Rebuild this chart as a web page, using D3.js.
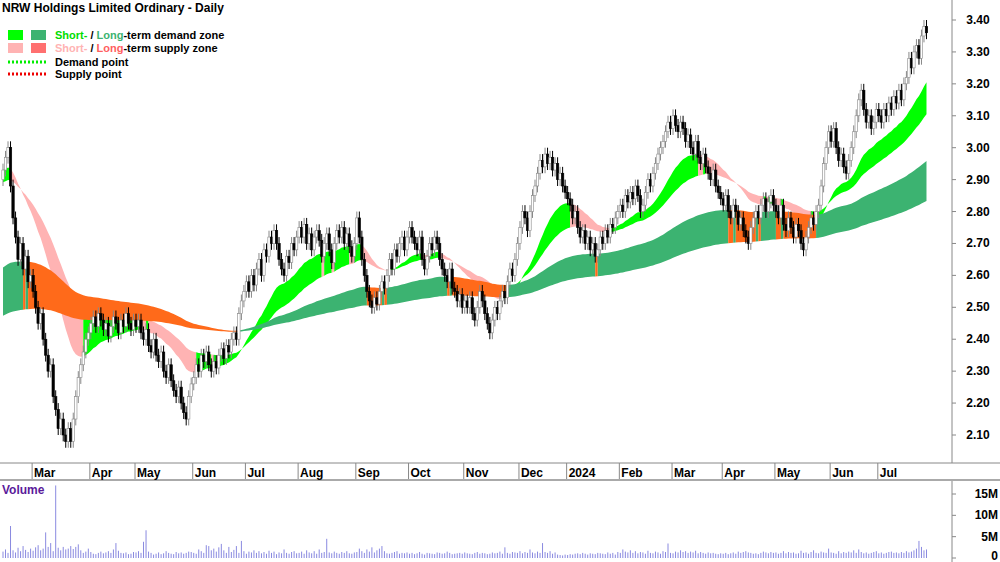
<!DOCTYPE html>
<html><head><meta charset="utf-8">
<script src="https://cdn.jsdelivr.net/npm/d3@7"></script>
<style>
body{margin:0;background:#fff;}
text{font-family:"Liberation Sans Narrow","Arial Narrow","Liberation Sans",Arial,sans-serif;}
</style></head>
<body><svg id="chart" width="1000" height="562"></svg>
<script>
// Month labels and daily closes
const monthLabels = ['', 'Mar', 'Apr', 'May', 'Jun', 'Jul', 'Aug', 'Sep', 'Oct', 'Nov', 'Dec', '2024', 'Feb', 'Mar', 'Apr', 'May', 'Jun', 'Jul'];
const monthCloses = [
  [2.93,2.97,3.00,2.88,2.78,2.72,2.65,2.70,2.62,2.66,2.58,2.60],
  [2.55,2.50,2.45,2.48,2.40,2.35,2.30,2.32,2.22,2.18,2.12,2.15,2.10,2.08,2.12,2.08,2.15,2.22,2.28,2.32,2.36,2.40,2.42],
  [2.45,2.47,2.44,2.48,2.46,2.43,2.45,2.41,2.44,2.47,2.45,2.42,2.46,2.44,2.48,2.45,2.43,2.46],
  [2.44,2.46,2.42,2.40,2.43,2.38,2.36,2.40,2.35,2.33,2.36,2.30,2.28,2.32,2.27,2.24,2.22,2.25,2.20,2.17,2.15,2.22,2.26],
  [2.28,2.32,2.30,2.35,2.33,2.36,2.32,2.30,2.33,2.31,2.35,2.37,2.34,2.38,2.36,2.40,2.42,2.40,2.48,2.52,2.55],
  [2.58,2.55,2.60,2.57,2.62,2.65,2.60,2.68,2.66,2.72,2.70,2.74,2.70,2.65,2.62,2.60,2.66,2.64,2.70,2.68,2.72],
  [2.75,2.72,2.76,2.70,2.73,2.68,2.72,2.74,2.71,2.66,2.70,2.73,2.68,2.64,2.70,2.74,2.72,2.75,2.70,2.73,2.69,2.66,2.70],
  [2.78,2.72,2.65,2.60,2.55,2.52,2.50,2.53,2.51,2.55,2.58,2.56,2.60,2.65,2.62,2.68,2.66,2.70,2.72,2.68,2.72],
  [2.75,2.72,2.70,2.68,2.72,2.65,2.62,2.66,2.70,2.68,2.72,2.70,2.65,2.62,2.60,2.58,2.62,2.56,2.55,2.52,2.54,2.50],
  [2.52,2.50,2.53,2.48,2.46,2.50,2.55,2.52,2.48,2.45,2.42,2.46,2.50,2.48,2.52,2.55,2.53,2.58,2.62,2.60,2.65,2.70],
  [2.75,2.80,2.78,2.74,2.80,2.85,2.88,2.92,2.96,2.94,2.98,2.95,2.97,2.93,2.95,2.90,2.92,2.88,2.86],
  [2.84,2.82,2.78,2.80,2.75,2.72,2.74,2.70,2.72,2.68,2.70,2.66,2.68,2.72,2.70,2.74,2.72,2.76,2.75,2.78,2.80],
  [2.82,2.80,2.85,2.83,2.86,2.84,2.88,2.85,2.80,2.82,2.86,2.90,2.88,2.92,2.95,2.98,3.00,3.02,3.05,3.08,3.06],
  [3.10,3.07,3.05,3.08,3.06,3.02,3.04,3.00,2.98,3.02,2.97,2.95,2.98,2.94,2.92,2.90,2.93,2.88,2.86,2.84],
  [2.82,2.85,2.80,2.78,2.82,2.80,2.76,2.78,2.74,2.72,2.70,2.75,2.78,2.80,2.78,2.82,2.84,2.80,2.83,2.85,2.82],
  [2.80,2.78,2.82,2.76,2.74,2.78,2.75,2.72,2.76,2.74,2.70,2.68,2.72,2.75,2.78,2.76,2.80,2.82,2.88,2.95,3.00,3.05],
  [3.02,3.06,3.00,2.96,2.98,2.94,2.92,2.96,3.00,3.05,3.10,3.15,3.18,3.12,3.08,3.10,3.06,3.08,3.12],
  [3.10,3.08,3.12,3.10,3.14,3.12,3.16,3.14,3.18,3.15,3.20,3.22,3.28,3.25,3.30,3.32,3.28,3.35,3.38,3.36]
];
const firstOpen = 2.90;
// daily volume in millions
const volumes = [
  1.5,2.0,1.2,7.5,1.8,1.3,2.4,1.6,2.8,1.9,1.4,2.2,
  1.7,2.5,3.0,1.8,2.2,6.0,2.6,3.5,1.6,17.0,2.4,1.8,2.6,2.0,2.2,2.8,2.1,2.6,3.2,1.8,1.2,1.5,2.2,
  1.4,1.0,0.9,1.2,1.5,1.1,1.3,1.6,1.2,2.0,3.5,1.7,1.2,1.1,1.3,0.9,1.0,1.4,
  1.3,1.6,1.2,3.8,6.5,1.5,1.2,0.8,1.0,1.3,0.9,1.1,1.6,1.2,1.0,0.9,1.4,1.1,1.3,1.0,1.2,1.5,1.4,
  1.2,1.0,2.0,1.6,1.2,3.0,2.8,1.8,2.2,1.5,2.5,3.3,1.8,1.2,2.6,1.4,1.9,2.8,1.2,4.0,1.6,
  1.0,1.5,1.3,1.8,1.2,1.6,1.1,1.4,1.0,1.7,1.2,1.5,0.9,1.3,1.1,2.0,1.2,1.0,1.4,1.6,1.1,
  1.2,1.5,1.0,1.8,1.3,1.1,1.6,1.0,2.0,1.2,1.4,4.5,1.3,1.1,1.5,1.2,1.0,1.4,1.2,1.6,1.1,1.0,1.3,
  1.4,2.2,1.6,1.2,2.0,1.5,2.5,1.3,1.8,2.2,2.8,1.6,1.1,1.0,1.2,1.4,1.6,1.0,1.2,1.1,1.3,
  1.0,1.2,0.9,1.1,1.4,1.0,0.8,1.2,1.1,1.0,0.9,1.3,1.2,1.0,1.1,1.5,1.2,0.9,1.0,1.1,1.2,1.0,
  1.3,1.1,1.0,0.9,1.2,1.4,1.0,1.2,1.1,0.9,1.0,1.3,1.1,1.2,1.5,1.0,2.5,1.2,1.0,1.4,1.3,1.2,
  1.6,1.1,1.4,1.2,2.0,1.3,1.1,1.5,1.2,3.5,1.4,1.2,1.6,1.0,1.3,0.8,0.7,0.6,0.8,
  0.7,0.9,0.8,1.0,1.1,0.9,1.2,1.0,0.8,1.1,1.0,0.9,1.2,1.1,1.0,0.9,1.3,1.0,1.2,0.8,1.4,
  1.2,2.0,1.5,1.3,1.8,1.2,1.6,1.1,1.4,1.3,1.0,1.7,1.2,1.1,1.5,1.3,1.0,1.6,1.4,3.4,1.2,
  1.1,1.5,1.3,1.8,1.4,1.6,1.2,1.5,1.3,1.7,1.1,1.4,1.2,1.0,1.3,1.1,1.2,1.0,0.9,1.1,
  1.0,1.2,0.9,1.1,1.3,1.0,1.5,1.2,1.4,1.6,1.3,1.2,1.0,1.1,0.9,1.2,1.5,1.3,1.1,1.4,1.2,
  1.3,1.0,1.2,1.6,1.1,1.4,1.2,1.3,1.0,1.1,1.7,1.2,1.3,1.0,1.4,1.8,1.2,1.1,1.5,1.3,1.2,2.2,
  1.3,1.2,1.0,1.6,1.1,1.4,1.2,1.5,1.3,1.8,1.2,2.0,1.4,1.1,1.3,1.0,1.2,1.4,1.6,
  1.1,1.3,1.0,1.2,1.4,1.5,1.2,1.3,1.1,1.4,1.2,1.6,1.3,1.5,1.8,2.2,4.0,2.6,1.8,2.0
];
const priceTicks = [2.10,2.20,2.30,2.40,2.50,2.60,2.70,2.80,2.90,3.00,3.10,3.20,3.30,3.40];
const volumeTicks = [0, 5, 10, 15];
// zone periods and starting levels
const shortPeriods = [25, 50], shortSeeds = [2.93, 2.89];
const longPeriods = [130, 260], longSeeds = [2.62, 2.47];

const svg = d3.select('#chart');
const closes = monthCloses.flat();
const monthStart = [];
let k = 0;
monthCloses.forEach(m => { monthStart.push(k); k += m.length; });
const days = closes.map((c, i) => {
  const o = i === 0 ? firstOpen : closes[i - 1];
  return {i, o, c, h: Math.max(o, c) + 0.02, l: Math.min(o, c) - 0.02, v: volumes[i] || 1};
});

const x = d3.scaleLinear().domain([0, closes.length]).range([2, 928]);
const y = d3.scaleLinear().domain([2.10, 3.40]).range([435, 20]);
const yv = d3.scaleLinear().domain([0, 15]).range([558, 494]);

function ema(period, seed) {
  const a = 2 / (period + 1); let e = seed;
  return closes.map(c => (e = e + a * (c - e)));
}
const sF = ema(shortPeriods[0], shortSeeds[0]), sS = ema(shortPeriods[1], shortSeeds[1]);
const lF = ema(longPeriods[0], longSeeds[0]), lS = ema(longPeriods[1], longSeeds[1]);

function drawZone(fast, slow, upColor, downColor) {
  const pts = fast.map((f, i) => ({i, a: f, b: slow[i], up: i === 0 ? true : f >= fast[i - 1]}));
  const area = d3.area().x(d => x(d.i) + 1).y0(d => y(d.a)).y1(d => y(d.b));
  let start = 0;
  for (let i = 1; i <= pts.length; i++) {
    if (i === pts.length || pts[i].up !== pts[start].up) {
      svg.append('path').attr('d', area(pts.slice(start, Math.min(i + 1, pts.length))))
        .attr('fill', pts[start].up ? upColor : downColor);
      start = i;
    }
  }
}
drawZone(sF, sS, '#00ff00', '#ffb3b3');
drawZone(lF, lS, '#3cb371', '#ff6a1a');

// candles
const cg = svg.append('g');
days.forEach(d => {
  const up = d.c >= d.o, cx = x(d.i) + 1;
  cg.append('line').attr('x1', cx).attr('x2', cx).attr('y1', y(d.h)).attr('y2', y(d.l))
    .attr('stroke', up ? '#888' : '#000').attr('stroke-width', 1);
  cg.append('rect').attr('x', cx - 1.2).attr('width', 2.4)
    .attr('y', y(Math.max(d.o, d.c))).attr('height', Math.max(1, Math.abs(y(d.o) - y(d.c))))
    .attr('fill', up ? '#fff' : '#000').attr('stroke', up ? '#888' : '#000').attr('stroke-width', 0.6);
});

// volume bars
svg.append('g').selectAll('line').data(days).join('line')
  .attr('x1', d => x(d.i) + 1).attr('x2', d => x(d.i) + 1)
  .attr('y1', yv(0)).attr('y2', d => yv(d.v))
  .attr('stroke', '#8a8ae0').attr('stroke-width', 1);

// frame lines
svg.append('line').attr('x1', 0).attr('x2', 1000).attr('y1', 463).attr('y2', 463).attr('stroke', '#888');
svg.append('line').attr('x1', 0).attr('x2', 1000).attr('y1', 480).attr('y2', 480).attr('stroke', '#aaa').attr('stroke-width', 2);
svg.append('line').attr('x1', 952).attr('x2', 952).attr('y1', 0).attr('y2', 463).attr('stroke', '#888');
svg.append('line').attr('x1', 952).attr('x2', 952).attr('y1', 481).attr('y2', 562).attr('stroke', '#888');

// price axis
priceTicks.forEach(t => {
  svg.append('line').attr('x1', 952).attr('x2', 956).attr('y1', y(t)).attr('y2', y(t)).attr('stroke', '#888');
  svg.append('text').attr('x', 978).attr('y', y(t) + 4).attr('font-size', 12).attr('font-weight', 'bold')
    .attr('text-anchor', 'middle').text(t.toFixed(2));
});
volumeTicks.forEach(t => {
  svg.append('line').attr('x1', 952).attr('x2', 956).attr('y1', yv(t)).attr('y2', yv(t)).attr('stroke', '#888');
  svg.append('text').attr('x', 998).attr('y', Math.min(yv(t) + 4, 560)).attr('font-size', 12).attr('font-weight', 'bold')
    .attr('text-anchor', 'end').text(t === 0 ? '0' : t + 'M');
});

// month axis
monthStart.forEach((s, m) => {
  if (!monthLabels[m]) return;
  const tx = x(s);
  svg.append('line').attr('x1', tx).attr('x2', tx).attr('y1', 463).attr('y2', 479).attr('stroke', '#888');
  svg.append('text').attr('x', tx + 2).attr('y', 477).attr('font-size', 12).attr('font-weight', 'bold').text(monthLabels[m]);
});

// title + legend
svg.append('text').attr('x', 2).attr('y', 12).attr('font-size', 12).attr('font-weight', 'bold').text('NRW Holdings Limited Ordinary - Daily');
svg.append('rect').attr('x', 8).attr('y', 30).attr('width', 15).attr('height', 10).attr('fill', '#00ff00');
svg.append('rect').attr('x', 31).attr('y', 30).attr('width', 15).attr('height', 10).attr('fill', '#3cb371');
svg.append('rect').attr('x', 8).attr('y', 43).attr('width', 15).attr('height', 10).attr('fill', '#ffb3b3');
svg.append('rect').attr('x', 31).attr('y', 43).attr('width', 15).attr('height', 10).attr('fill', '#ff7070');
svg.append('line').attr('x1', 8).attr('x2', 46).attr('y1', 62).attr('y2', 62).attr('stroke', '#00ee00').attr('stroke-width', 3).attr('stroke-dasharray', '2,2');
svg.append('line').attr('x1', 8).attr('x2', 46).attr('y1', 74).attr('y2', 74).attr('stroke', '#ee0000').attr('stroke-width', 3).attr('stroke-dasharray', '2,2');
const leg = [
  [39, [['Short-', '#00dd00'], [' / ', '#000'], ['Long', '#3cb371'], ['-term demand zone', '#000']]],
  [52, [['Short-', '#ffb3b3'], [' / ', '#000'], ['Long', '#ff6060'], ['-term supply zone', '#000']]],
  [66, [['Demand point', '#000']]],
  [78, [['Supply point', '#000']]]
];
leg.forEach(([ly, parts]) => {
  const t = svg.append('text').attr('x', 55).attr('y', ly).attr('font-size', 11).attr('font-weight', 'bold');
  parts.forEach(([s, c]) => t.append('tspan').attr('fill', c).text(s));
});
svg.append('text').attr('x', 2).attr('y', 494).attr('font-size', 12).attr('font-weight', 'bold').attr('fill', '#5a1a9a').text('Volume');
</script></body></html>
